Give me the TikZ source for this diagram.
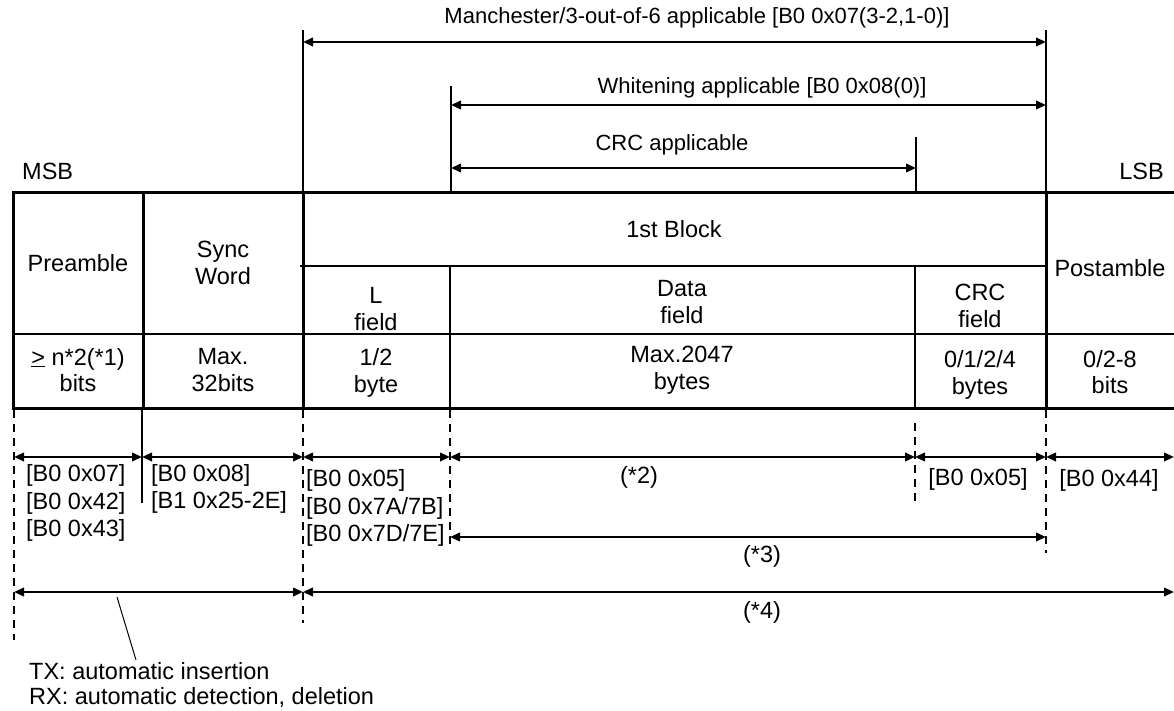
\documentclass[tikz,border=0pt]{standalone}
\usepackage{fontspec}
\setmainfont{Liberation Sans}
\usetikzlibrary{arrows.meta}
\begin{document}
\begin{tikzpicture}[x=1pt,y=-1pt,
  thickline/.style={line width=3pt,line cap=rect},
  thinline/.style={line width=1.3pt},
  dim/.style={line width=2.2pt,{Triangle[length=10pt,width=8.5pt]}-{Triangle[length=10pt,width=8.5pt]}},
  dashline/.style={line width=1.5pt,dash pattern=on 8pt off 6pt},
  toplbl/.style={inner sep=0pt,font=\fontsize{22}{26}\selectfont,align=center},
  lbl/.style={inner sep=0pt,font=\fontsize{23.5}{26.5}\selectfont,align=center},
  lbll/.style={inner sep=0pt,font=\fontsize{23.5}{27.5}\selectfont,align=left},
  ]
\useasboundingbox (0,0) rectangle (1174,711);

% ---------- table ----------
\draw[thickline] (13,193) -- (1174,193);
\draw[thickline] (13,408) -- (1174,408);
\draw[thickline] (13,193) -- (13,408);
\draw[thickline] (143,193) -- (143,408);
\draw[thickline] (303,193) -- (303,408);
\draw[thickline] (1046,193) -- (1046,408);
\draw[thinline] (13,334) -- (1174,334);
\draw[thinline] (300,266) -- (1046,266);
\draw[thinline] (450,266) -- (450,408);
\draw[thinline] (915,266) -- (915,408);

% ---------- top range markers ----------
\draw[thinline] (303,30) -- (303,193);
\draw[thinline] (1046,30) -- (1046,193);
\draw[thinline] (451,86) -- (451,193);
\draw[thinline] (916,137) -- (916,193);

\coordinate (man1) at (303,42);  \coordinate (man2) at (1046,42);
\coordinate (wh1) at (451,105);  \coordinate (wh2) at (1046,105);
\coordinate (crc1) at (451,168); \coordinate (crc2) at (916,168);
\draw[dim] (man1) -- (man2);
\draw[dim] (wh1) -- (wh2);
\draw[dim] (crc1) -- (crc2);

\node[toplbl] (tman) at (697,18) {Manchester/3-out-of-6 applicable [B0 0x07(3-2,1-0)]};
\node[toplbl] (twh) at (762,88) {Whitening applicable [B0 0x08(0)]};
\node[toplbl] (tcrc) at (672,145) {CRC applicable};
\node[lbl,anchor=base west] (msb) at (22,180) {MSB};
\node[lbl,anchor=base east] (lsb) at (1164,180) {LSB};

% ---------- cell texts ----------
\node[lbl] (pre) at (78,263) {Preamble};
\node[lbl] (sync) at (223,263) {Sync\\Word};
\node[lbl] (blk) at (674,229) {1st Block};
\node[lbl] (lf) at (376,309) {L\\field};
\node[lbl] (df) at (682,302) {Data\\field};
\node[lbl] (cf) at (980,306) {CRC\\field};
\node[lbl] (post) at (1110,268) {Postamble};

\node[lbl] (pre2) at (78,370) {\underline{>} n*2(*1)\\bits};
\node[lbl] (sync2) at (223,370) {Max.\\32bits};
\node[lbl] (lf2) at (376,373) {1/2\\byte};
\node[lbl] (df2) at (682,370) {Max.2047\\bytes};
\node[lbl] (cf2) at (980,375) {0/1/2/4\\bytes};
\node[lbl] (post2) at (1110,372) {0/2-8\\bits};

% ---------- below the table ----------
\draw[dashline] (14,410) -- (14,640);
\draw[thinline] (142,408) -- (142,503);
\draw[dashline] (303,410) -- (303,623);
\draw[dashline] (450,410) -- (450,548);
\draw[dashline] (915,423) -- (915,503);
\draw[dashline] (1046,410) -- (1046,553);

\coordinate (r0) at (14,457);  \coordinate (r1) at (142,457);
\coordinate (r2) at (303,457); \coordinate (r3) at (450,457);
\coordinate (r4) at (915,457); \coordinate (r5) at (1046,457);
\coordinate (r6) at (1174,457);
\draw[dim] (r0) -- (r1);
\draw[dim] (r1) -- (r2);
\draw[dim] (r2) -- (r3);
\draw[dim] (r3) -- (r4);
\draw[dim] (r4) -- (r5);
\draw[dim] (r5) -- (r6);

\coordinate (s1) at (450,537); \coordinate (s2) at (1046,537);
\draw[dim] (s1) -- (s2);

\coordinate (t0) at (14,592); \coordinate (t1) at (303,592);
\coordinate (t2) at (1174,592);
\draw[dim] (t0) -- (t1);
\draw[dim] (t1) -- (t2);

\node[lbll,anchor=west] (b1) at (26,503) {[B0 0x07]\\{}[B0 0x42]\\{}[B0 0x43]};
\node[lbll,anchor=west] (b2) at (151,489) {[B0 0x08]\\{}[B1 0x25-2E]};
\node[lbll,anchor=west] (b3) at (306,508) {[B0 0x05]\\{}[B0 0x7A/7B]\\{}[B0 0x7D/7E]};
\node[lbl] (n2) at (639,477) {(*2)};
\node[lbl] (b4) at (978,479) {[B0 0x05]};
\node[lbl] (b5) at (1109,480) {[B0 0x44]};
\node[lbl] (n3) at (762,556) {(*3)};
\node[lbl] (n4) at (762,612) {(*4)};

\node[inner sep=0pt,font=\fontsize{23.5}{25}\selectfont,align=left,anchor=west] (tx) at (29,685) {TX: automatic insertion\\RX: automatic detection, deletion};
\coordinate (p1) at (117,597); \coordinate (p2) at (136,660);
\draw[line width=1pt] (p1) -- (p2);
\end{tikzpicture}
\end{document}
